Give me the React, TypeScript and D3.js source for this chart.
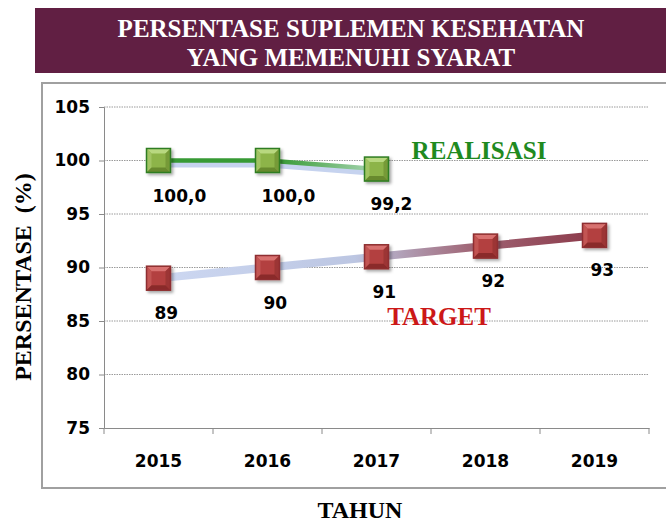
import React, { useEffect, useRef } from 'react';
import * as d3 from 'd3';

const years = ['2015', '2016', '2017', '2018', '2019'];
const realisasi = [100, 100, 99.2];
const realisasiLabels = ['100,0', '100,0', '99,2'];
const target = [89, 90, 91, 92, 93];
const targetLabels = ['89', '90', '91', '92', '93'];
const yTicks = [75, 80, 85, 90, 95, 100, 105];
const titleLines = ['PERSENTASE SUPLEMEN KESEHATAN', 'YANG MEMENUHI SYARAT'];

const NUM_FONT = '"DejaVu Sans", sans-serif';
const SERIF = '"Liberation Serif", "Times New Roman", serif';

const App = () => {
  const svgRef = useRef<SVGSVGElement | null>(null);

  useEffect(() => {
    if (!svgRef.current) return;
    const svg = d3.select(svgRef.current);
    svg.selectAll('*').remove();

    const plot = { left: 104, right: 649, top: 107, bottom: 428 };

    const x = d3.scaleBand<string>().domain(years).range([plot.left, plot.right]);
    const cx = (i: number) => (x(years[i]) as number) + x.bandwidth() / 2;
    const y = d3.scaleLinear().domain([75, 105]).range([plot.bottom, plot.top]);

    const defs = svg.append('defs');
    const grad = defs.append('linearGradient')
      .attr('id', 'targetGrad')
      .attr('gradientUnits', 'userSpaceOnUse')
      .attr('x1', cx(0)).attr('x2', cx(target.length - 1))
      .attr('y1', 0).attr('y2', 0);
    grad.append('stop').attr('offset', '0').attr('stop-color', '#cdd8f2');
    grad.append('stop').attr('offset', '0.45').attr('stop-color', '#bcc6e2');
    grad.append('stop').attr('offset', '0.72').attr('stop-color', '#a06575');
    grad.append('stop').attr('offset', '1').attr('stop-color', '#8c3a4a');

    const rGrad = defs.append('linearGradient')
      .attr('id', 'realGrad')
      .attr('gradientUnits', 'userSpaceOnUse')
      .attr('x1', cx(0)).attr('x2', cx(realisasi.length - 1))
      .attr('y1', 0).attr('y2', 0);
    rGrad.append('stop').attr('offset', '0').attr('stop-color', '#379a35');
    rGrad.append('stop').attr('offset', '0.55').attr('stop-color', '#379a35');
    rGrad.append('stop').attr('offset', '1').attr('stop-color', '#a9d6b4');

    const shadow = defs.append('filter').attr('id', 'shadow')
      .attr('x', '-30%').attr('y', '-30%').attr('width', '170%').attr('height', '170%');
    shadow.append('feDropShadow')
      .attr('dx', 2).attr('dy', 2).attr('stdDeviation', 1.5)
      .attr('flood-color', '#000').attr('flood-opacity', 0.35);

    // title band
    svg.append('rect')
      .attr('x', 35).attr('y', 8).attr('width', 640).attr('height', 65)
      .attr('fill', '#611f43');
    titleLines.forEach((t, i) => {
      svg.append('text')
        .attr('x', 351).attr('y', 37 + i * 29)
        .attr('text-anchor', 'middle')
        .attr('font-family', SERIF)
        .attr('font-weight', 'bold')
        .attr('font-size', 25)
        .attr('fill', '#ffffff')
        .text(t);
    });

    // chart frame (right edge runs off the picture)
    svg.append('rect')
      .attr('x', 42).attr('y', 83).attr('width', 640).attr('height', 405)
      .attr('fill', '#ffffff')
      .attr('stroke', '#a0a0a0')
      .attr('stroke-width', 2);

    // gridlines
    svg.append('g')
      .selectAll('line')
      .data(yTicks.filter(d => d > 75))
      .join('line')
      .attr('x1', plot.left).attr('x2', plot.right)
      .attr('y1', d => y(d)).attr('y2', d => y(d))
      .attr('stroke', '#9a9a9a')
      .attr('stroke-width', 1)
      .attr('stroke-dasharray', '1.5,1');

    // y axis
    const yAxis = svg.append('g')
      .attr('transform', `translate(${plot.left},0)`)
      .call(d3.axisLeft(y).tickValues(yTicks).tickSize(5).tickPadding(9));
    yAxis.select('.domain').attr('stroke', '#8a8a8a');
    yAxis.selectAll('.tick line').attr('stroke', '#8a8a8a');
    yAxis.selectAll('.tick text')
      .attr('font-family', NUM_FONT)
      .attr('font-weight', 'bold')
      .attr('font-size', 17)
      .attr('fill', '#000');

    // x axis
    const xAxis = svg.append('g')
      .attr('transform', `translate(0,${plot.bottom})`)
      .call(d3.axisBottom(x).tickSize(0).tickPadding(27));
    xAxis.select('.domain').attr('stroke', '#8a8a8a');
    xAxis.selectAll('.tick text')
      .attr('font-family', NUM_FONT)
      .attr('font-weight', 'bold')
      .attr('font-size', 17)
      .attr('fill', '#000');
    // category boundary ticks
    svg.append('g')
      .selectAll('line')
      .data(d3.range(years.length + 1))
      .join('line')
      .attr('x1', i => plot.left + i * x.step())
      .attr('x2', i => plot.left + i * x.step())
      .attr('y1', plot.bottom).attr('y2', plot.bottom + 6)
      .attr('stroke', '#8a8a8a');

    // target line
    const tLine = d3.line<number>().x((_, i) => cx(i)).y(d => y(d));
    svg.append('path')
      .datum(target)
      .attr('d', tLine)
      .attr('fill', 'none')
      .attr('stroke', 'url(#targetGrad)')
      .attr('stroke-width', 8);

    // realisasi line: pale shadow + green line
    const rShadow = d3.line<number>().x((_, i) => cx(i)).y(d => y(d) + 4);
    svg.append('path')
      .datum(realisasi)
      .attr('d', rShadow)
      .attr('fill', 'none')
      .attr('stroke', '#c6d3ef')
      .attr('stroke-width', 6);
    svg.append('path')
      .datum(realisasi)
      .attr('d', tLine)
      .attr('fill', 'none')
      .attr('stroke', 'url(#realGrad)')
      .attr('stroke-width', 4.5);

    // bevel square markers
    const drawMarker = (mx: number, my: number, c: { face: string; top: string; left: string; right: string; bottom: string; border: string }) => {
      const s = 12, b = 5;
      const g = svg.append('g').attr('filter', 'url(#shadow)');
      g.append('rect').attr('x', mx - s).attr('y', my - s).attr('width', 2 * s).attr('height', 2 * s)
        .attr('fill', c.face);
      const pts = (arr: number[][]) => arr.map(p => p.join(',')).join(' ');
      g.append('polygon').attr('points', pts([[mx - s, my - s], [mx + s, my - s], [mx + s - b, my - s + b], [mx - s + b, my - s + b]])).attr('fill', c.top);
      g.append('polygon').attr('points', pts([[mx - s, my - s], [mx - s + b, my - s + b], [mx - s + b, my + s - b], [mx - s, my + s]])).attr('fill', c.left);
      g.append('polygon').attr('points', pts([[mx + s, my - s], [mx + s, my + s], [mx + s - b, my + s - b], [mx + s - b, my - s + b]])).attr('fill', c.right);
      g.append('polygon').attr('points', pts([[mx - s, my + s], [mx + s, my + s], [mx + s - b, my + s - b], [mx - s + b, my + s - b]])).attr('fill', c.bottom);
      g.append('rect').attr('x', mx - s).attr('y', my - s).attr('width', 2 * s).attr('height', 2 * s)
        .attr('fill', 'none').attr('stroke', c.border).attr('stroke-width', 1.5);
    };

    const red = { face: '#b3413f', top: '#d8716f', left: '#c25553', right: '#9c3535', bottom: '#8a2b2b', border: '#8e2f30' };
    const green = { face: '#8db449', top: '#b8d880', left: '#a1c463', right: '#769a38', bottom: '#688a2e', border: '#2f7d22' };

    target.forEach((d, i) => drawMarker(cx(i), y(d), red));
    realisasi.forEach((d, i) => drawMarker(cx(i), y(d), green));

    // data labels (left-aligned just left of the marker centre)
    const labelStyle = (sel: d3.Selection<SVGTextElement, unknown, null, undefined>) =>
      sel.attr('font-family', NUM_FONT).attr('font-weight', 'bold').attr('font-size', 17)
        .attr('text-anchor', 'start').attr('fill', '#000');
    target.forEach((d, i) => {
      svg.append('text').call(labelStyle)
        .attr('x', cx(i) - 4).attr('y', y(d) + 41)
        .text(targetLabels[i]);
    });
    realisasi.forEach((d, i) => {
      svg.append('text').call(labelStyle)
        .attr('x', cx(i) - 6).attr('y', y(d) + 41)
        .text(realisasiLabels[i]);
    });

    // series names
    svg.append('text')
      .attr('x', 479).attr('y', 159)
      .attr('text-anchor', 'middle')
      .attr('font-family', SERIF).attr('font-weight', 'bold').attr('font-size', 25)
      .attr('fill', '#1f8a1f')
      .text('REALISASI');
    svg.append('text')
      .attr('x', 439).attr('y', 325)
      .attr('text-anchor', 'middle')
      .attr('font-family', SERIF).attr('font-weight', 'bold').attr('font-size', 25)
      .attr('fill', '#cc1818')
      .text('TARGET');

    // axis titles
    svg.append('text')
      .attr('transform', 'translate(31,277) rotate(-90)')
      .attr('text-anchor', 'middle')
      .attr('font-family', SERIF).attr('font-weight', 'bold').attr('font-size', 24)
      .attr('fill', '#000')
      .attr('xml:space', 'preserve')
      .text('PERSENTASE  (%)');
    svg.append('text')
      .attr('x', 360).attr('y', 518)
      .attr('text-anchor', 'middle')
      .attr('font-family', SERIF).attr('font-weight', 'bold').attr('font-size', 24)
      .attr('fill', '#000')
      .text('TAHUN');
  }, []);

  return (
    <svg
      ref={svgRef}
      width={666}
      height={522}
      style={{ position: 'absolute', left: 0, top: 0, background: '#fff' }}
    />
  );
};

export default App;
